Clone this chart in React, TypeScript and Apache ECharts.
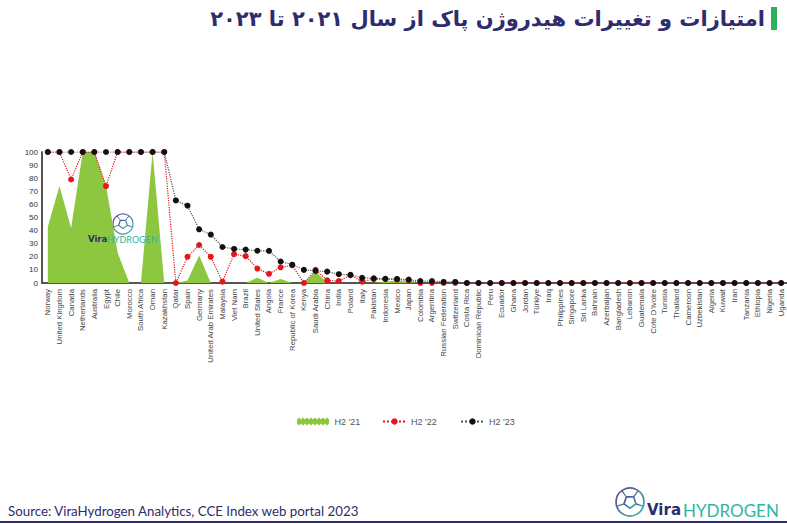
import React, { useEffect, useRef } from "react";
import * as echarts from "echarts";

const categories = [
  "Norway", "United Kingdom", "Canada", "Netherlands", "Australia", "Egypt", "Chile", "Morocco",
  "South Africa", "Oman", "Kazakhstan", "Qatar", "Spain", "Germany", "United Arab Emirates", "Malaysia",
  "Viet Nam", "Brazil", "United States", "Angola", "France", "Republic of Korea", "Kenya", "Saudi Arabia",
  "China", "India", "Poland", "Italy", "Pakistan", "Indonesia", "Mexico", "Japan",
  "Colombia", "Argentina", "Russian Federation", "Switzerland", "Costa Rica", "Dominican Republic", "Peru", "Ecuador",
  "Ghana", "Jordan", "Türkiye", "Iraq", "Philippines", "Singapore", "Sri Lanka", "Bahrain",
  "Azerbaijan", "Bangladesh", "Lebanon", "Guatemala", "Cote D'Ivoire", "Tunisia", "Thailand", "Cameroon",
  "Uzbekistan", "Algeria", "Kuwait", "Iran", "Tanzania", "Ethiopia", "Nigeria", "Uganda",
];

const h2_21 = [
  43, 74, 42, 100, 100, 74, 23, 0,
  0, 100, 0, 0, 2, 21, 0, 0,
  0, 0, 4, 0, 3, 0, 0, 9,
  0, 0, 0, 0, 0, 1, 2, 1,
  0, 0, 0, 0, 0, 0, 0, 0,
  0, 0, 0, 0, 0, 0, 0, 0,
  0, 0, 0, 0, 0, 0, 0, 0,
  0, 0, 0, 0, 0, 0, 0, 0,
];

const h2_22 = [
  100, 100, 79, 100, 100, 74, 100, 100,
  100, 100, 100, 0, 20, 29, 20, 1,
  22, 20.5, 11, 7, 12, 13.5, 0, 10,
  2, 1.5, 6, 1, 3, 3, 2.5, 2,
  0, 0, 0, 0, 0, 0, 0, 0,
  0, 0, 0, 0, 0, 0, 0, 0,
  0, 0, 0, 0, 0, 0, 0, 0,
  0, 0, 0, 0, 0, 0, 0, 0,
];

const h2_23 = [
  100, 100, 100, 100, 100, 100, 100, 100,
  100, 100, 100, 63, 59, 41, 37, 27.5,
  26, 25.5, 24.6, 24.5, 16.4, 14, 10, 9.2,
  8.7, 6.7, 6.2, 3.9, 3.6, 3.2, 3.1, 2.6,
  1.5, 1.5, 0.8, 0.8, 0, 0, 0, 0,
  0, 0, 0, 0, 0, 0, 0, 0,
  0, 0, 0, 0, 0, 0, 0, 0,
  0, 0, 0, 0, 0, 0, 0, 0,
];

const seriesNames = ["H2 '21", "H2 '22", "H2 '23"];
const titleText = "امتیازات و تغییرات هیدروژن پاک از سال ۲۰۲۱ تا ۲۰۲۳";
const sourceText = "Source: ViraHydrogen Analytics, CCE Index web portal 2023";

const NAVY = "#2e2b6e";
const TEAL = "#33b5a2";
const GREEN = "#8dc63f";
const RED = "#e3161c";

const zigzag =
  "path://M0,2 L2,0 L4,2 L6,0 L8,2 L10,0 L12,2 L14,0 L16,2 L18,0 L20,2 L22,0 L24,2 L26,0 L28,2 L30,0 L32,2 L32,6 L30,8 L28,6 L26,8 L24,6 L22,8 L20,6 L18,8 L16,6 L14,8 L12,6 L10,8 L8,6 L6,8 L4,6 L2,8 L0,6 Z";

function ballIcon(cx: number, cy: number, r: number) {
  const grad = new echarts.graphic.LinearGradient(0, 0, 1, 1, [
    { offset: 0, color: "#5b3f9a" },
    { offset: 1, color: "#34b8a6" },
  ]);
  const inner = 0.45 * r;
  const pts: number[][] = [];
  const outerPts: number[][] = [];
  for (let i = 0; i < 5; i++) {
    const a = -Math.PI / 2 + (i * 2 * Math.PI) / 5 + Math.PI / 5;
    pts.push([cx + inner * Math.cos(a), cy + inner * Math.sin(a)]);
    outerPts.push([cx + r * Math.cos(a), cy + r * Math.sin(a)]);
  }
  const children: any[] = [
    {
      type: "circle",
      shape: { cx, cy, r },
      style: { fill: "none", stroke: grad, lineWidth: Math.max(1, r * 0.12) },
    },
    {
      type: "polygon",
      shape: { points: pts },
      style: { fill: "none", stroke: grad, lineWidth: Math.max(1, r * 0.12) },
    },
  ];
  for (let i = 0; i < 5; i++) {
    children.push({
      type: "line",
      shape: { x1: pts[i][0], y1: pts[i][1], x2: outerPts[i][0], y2: outerPts[i][1] },
      style: { stroke: grad, lineWidth: Math.max(1, r * 0.1) },
    });
  }
  return { type: "group", silent: true, z: 100, children };
}

export default function App() {
  const ref = useRef<HTMLDivElement>(null);

  useEffect(() => {
    if (!ref.current) return;
    const chart = echarts.init(ref.current, null, { renderer: "svg" });
    const font = "Liberation Sans";
    const option: any = {
      animation: false,
      backgroundColor: "#ffffff",
      textStyle: { fontFamily: font },
      grid: { left: 42, right: 0, top: 152, bottom: 241, containLabel: false },
      legend: [
        {
          data: [{ name: seriesNames[0], icon: zigzag }],
          left: 292,
          top: 412,
          itemWidth: 33,
          itemHeight: 8,
          textStyle: { fontSize: 9, color: "#555", fontFamily: font },
        },
        {
          data: [seriesNames[1]],
          left: 377,
          top: 412,
          itemWidth: 23,
          itemHeight: 8,
          textStyle: { fontSize: 9, color: "#555", fontFamily: font },
        },
        {
          data: [seriesNames[2]],
          left: 455,
          top: 412,
          itemWidth: 23,
          itemHeight: 8,
          textStyle: { fontSize: 9, color: "#555", fontFamily: font },
        },
      ],
      xAxis: {
        type: "category",
        data: categories,
        boundaryGap: true,
        axisLine: { show: true, lineStyle: { color: "#555", width: 2 } },
        axisTick: { show: false },
        axisLabel: {
          rotate: 90,
          interval: 0,
          fontSize: 7.8,
          color: "#444",
          margin: 6,
          fontFamily: font,
        },
        splitLine: { show: false },
      },
      yAxis: {
        type: "value",
        min: 0,
        max: 100,
        interval: 10,
        axisLine: { show: true, lineStyle: { color: "#555", width: 2 } },
        axisTick: { show: false },
        axisLabel: { fontSize: 8, color: "#333", margin: 4, fontFamily: font },
        splitLine: { show: false },
      },
      series: [
        {
          name: seriesNames[0],
          type: "line",
          data: h2_21,
          symbol: "none",
          color: GREEN,
          itemStyle: { color: GREEN },
          lineStyle: { width: 0, color: GREEN },
          areaStyle: { color: GREEN, opacity: 1 },
          z: 1,
        },
        {
          name: seriesNames[1],
          type: "line",
          data: h2_22,
          symbol: "circle",
          symbolSize: 6,
          color: RED,
          itemStyle: { color: RED },
          lineStyle: { width: 1.2, type: "dotted", color: RED },
          z: 3,
        },
        {
          name: seriesNames[2],
          type: "line",
          data: h2_23,
          symbol: "circle",
          symbolSize: 6,
          color: "#111",
          itemStyle: { color: "#111" },
          lineStyle: { width: 1.2, type: "dotted", color: "#555" },
          z: 4,
        },
      ],
      graphic: [
        {
          type: "rect",
          shape: { x: 771, y: 7, width: 6, height: 23 },
          style: { fill: "#2fb15c" },
          silent: true,
        },
        {
          type: "text",
          style: {
            text: titleText,
            x: 765,
            y: 19,
            align: "right",
            verticalAlign: "middle",
            fontSize: 21,
            fontWeight: "bold",
            fontFamily: "DejaVu Sans",
            fill: NAVY,
          },
          silent: true,
        },
        // watermark in chart
        ballIcon(123, 224, 10),
        {
          type: "text",
          z: 100,
          style: {
            text: "Vira",
            x: 88,
            y: 239,
            verticalAlign: "middle",
            fontSize: 8.5,
            fontWeight: "bold",
            fontFamily: "DejaVu Sans",
            fill: NAVY,
          },
          silent: true,
        },
        {
          type: "text",
          z: 100,
          style: {
            text: "HYDROGEN",
            x: 107,
            y: 239,
            verticalAlign: "middle",
            fontSize: 9,
            fontFamily: "Lato",
            fill: TEAL,
          },
          silent: true,
        },
        // source
        {
          type: "text",
          style: {
            text: sourceText,
            x: 8,
            y: 511,
            verticalAlign: "middle",
            fontSize: 13.3,
            fontFamily: "Lato",
            fill: NAVY,
          },
          silent: true,
        },
        // bottom logo
        ballIcon(630, 502, 14),
        {
          type: "text",
          style: {
            text: "Vira",
            x: 647,
            y: 510,
            verticalAlign: "middle",
            fontSize: 15,
            fontWeight: "bold",
            fontFamily: "DejaVu Sans",
            fill: NAVY,
          },
          silent: true,
        },
        {
          type: "text",
          style: {
            text: "HYDROGEN",
            x: 683,
            y: 510,
            verticalAlign: "middle",
            fontSize: 17,
            fontFamily: "Lato",
            fill: TEAL,
          },
          silent: true,
        },
        {
          type: "rect",
          shape: { x: 0, y: 521, width: 787, height: 2 },
          style: { fill: NAVY },
          silent: true,
        },
      ],
    };
    chart.setOption(option);
    return () => chart.dispose();
  }, []);

  return (
    <div
      ref={ref}
      style={{ position: "absolute", left: 0, top: 0, width: 787, height: 524 }}
    />
  );
}
